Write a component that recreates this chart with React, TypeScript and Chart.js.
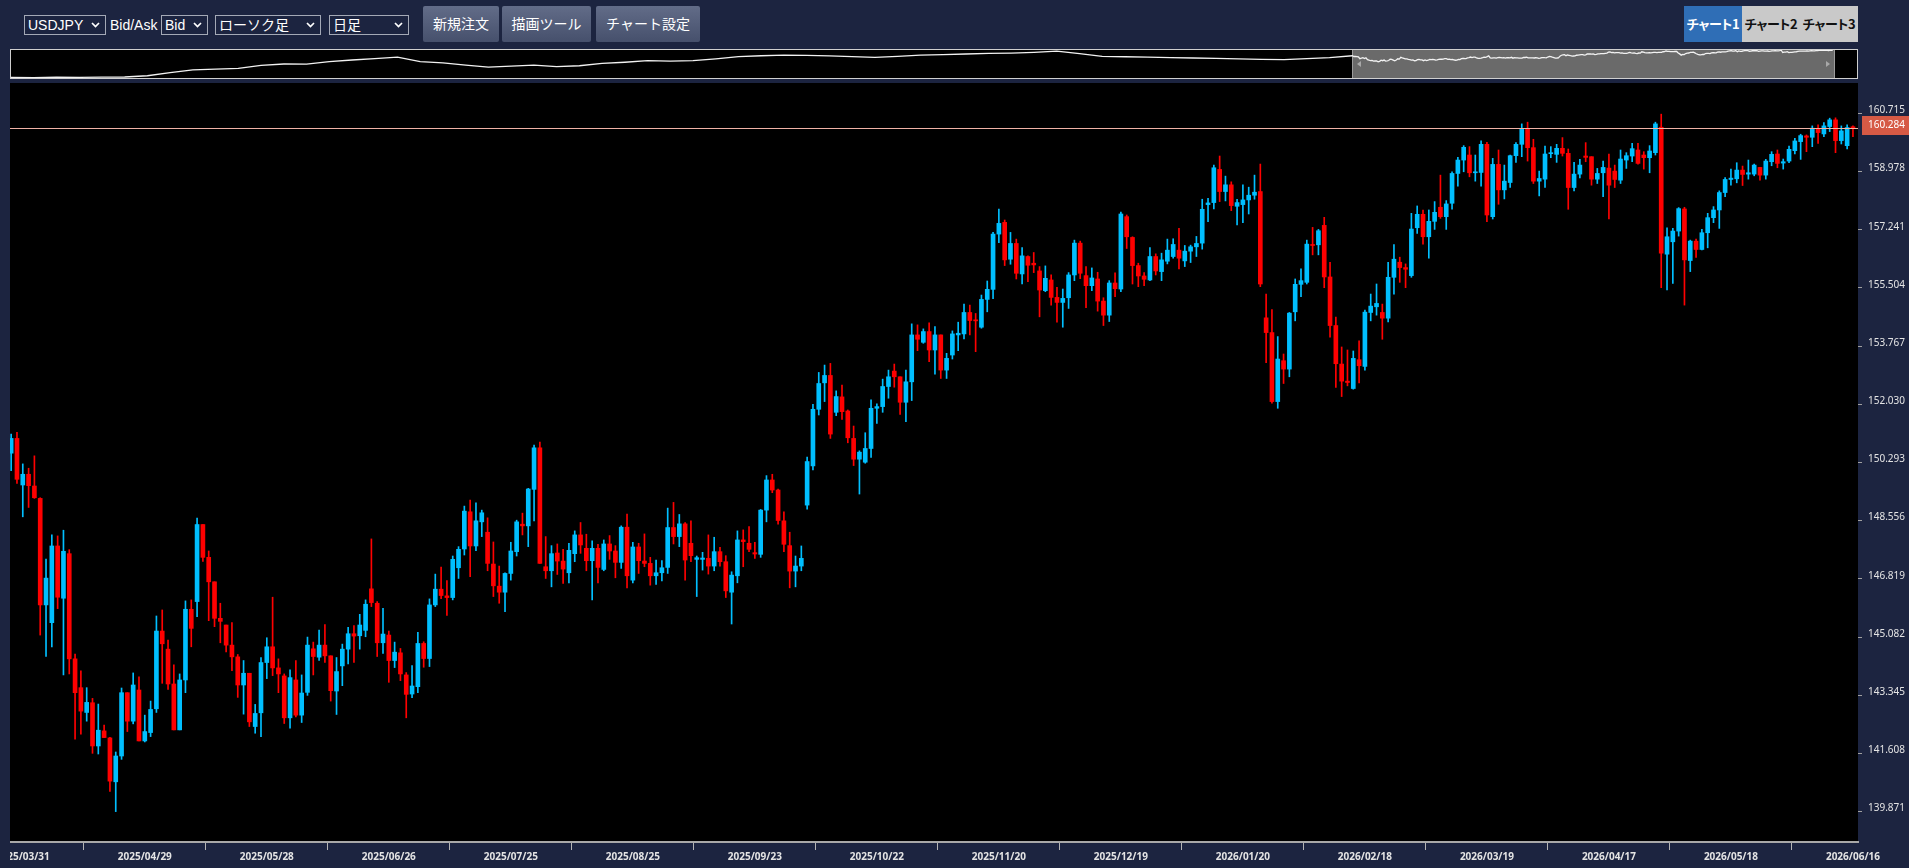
import React, { useEffect, useRef } from "react";
import { Chart, registerables } from "chart.js";

Chart.register(...registerables);

// ---------- data ----------
const firstDate = "2025/03/27";
const lastDate = "2026/06/16";
const holidays = ["2026/01/01"];

const xTickLabels = [
  "2025/03/31", "2025/04/29", "2025/05/28", "2025/06/26", "2025/07/25", "2025/08/25",
  "2025/09/23", "2025/10/22", "2025/11/20", "2025/12/19", "2026/01/20", "2026/02/18",
  "2026/03/19", "2026/04/17", "2026/05/18", "2026/06/16",
];

const yTicks = [
  160.715, 158.978, 157.241, 155.504, 153.767, 152.03, 150.293,
  148.556, 146.819, 145.082, 143.345, 141.608, 139.871,
];

const lastPrice = 160.284;

const open = [
  150.57,151.01,149.62,149.94,149.59,149.22,146.04,145.51,147.80,146.24,
  147.57,144.43,143.57,142.83,143.12,141.83,142.28,142.07,140.76,141.53,
  143.42,142.57,143.50,141.98,142.23,142.94,145.26,144.72,143.68,142.31,
  143.80,145.91,146.14,148.44,147.46,146.73,145.64,145.44,144.84,144.49,
  143.65,144.00,142.41,142.82,144.32,144.79,144.16,143.92,142.67,143.80,
  142.75,143.43,144.73,144.48,144.84,144.52,143.47,144.22,144.72,145.18,
  145.12,145.28,146.52,146.09,144.91,145.14,144.38,144.61,143.95,143.38,
  143.60,144.89,144.44,146.04,146.51,146.31,146.26,147.15,147.71,148.82,
  147.80,148.52,148.21,147.26,146.60,146.42,146.98,147.63,148.45,148.40,
  149.49,150.73,147.18,147.06,147.59,147.35,147.00,147.57,148.13,147.73,
  147.36,147.73,147.10,147.86,147.65,147.31,148.36,146.78,147.77,147.35,
  147.28,146.91,147.00,147.16,148.35,148.08,148.46,147.88,147.40,147.40,
  147.43,147.20,147.63,147.33,146.42,146.91,147.98,147.88,147.60,147.55,
  148.87,149.77,149.47,148.55,147.81,147.05,147.20,149.02,150.19,151.88,
  152.67,152.89,151.79,152.25,151.83,151.01,150.39,150.30,150.71,151.91,
  151.96,152.56,153.02,152.85,152.09,152.70,154.10,153.88,154.20,153.65,
  154.10,153.05,153.50,154.10,154.13,154.77,154.55,154.33,155.16,155.46,
  157.11,157.46,156.36,156.83,155.92,156.44,156.24,156.01,155.42,155.74,
  155.22,155.07,155.21,155.89,156.84,155.87,155.57,155.77,155.11,154.69,
  155.65,155.47,157.63,157.01,156.17,155.86,155.74,156.44,155.99,156.30,
  156.44,156.63,156.31,156.60,156.73,156.84,157.99,158.05,159.04,158.38,
  158.58,157.94,157.99,158.13,158.27,158.38,154.61,154.17,152.11,153.33,
  153.08,154.79,155.61,155.67,156.80,156.79,157.37,155.83,154.38,153.23,
  152.72,152.50,153.36,153.16,154.77,154.94,154.77,154.60,155.82,156.27,
  156.11,155.87,157.30,157.70,157.03,157.49,157.91,157.63,158.03,158.92,
  159.32,159.47,158.94,158.95,159.79,157.63,159.19,158.43,158.65,159.45,
  159.79,160.24,159.69,158.69,158.75,159.51,159.49,159.67,159.52,158.50,
  158.90,159.44,159.42,158.75,158.94,159.08,158.99,158.72,159.32,159.44,
  159.62,159.47,159.39,159.54,160.30,156.51,156.88,157.20,157.86,156.32,
  156.90,156.65,157.15,157.60,157.83,158.35,158.74,158.76,159.02,158.90,
  158.90,159.10,158.87,159.27,159.50,159.23,159.29,159.60,159.87,160.04,
  160.00,160.24,160.10,160.32,160.52,159.90,159.75,160.29,
];

const high = [
  151.14,151.19,150.25,150.12,150.49,149.24,147.41,148.13,148.10,148.27,
  147.69,144.57,144.07,143.57,143.25,143.08,142.45,142.09,141.65,143.56,
  143.42,144.01,143.89,142.75,143.17,145.71,145.89,144.99,144.25,143.98,
  146.16,146.19,148.63,148.44,147.65,146.73,146.09,145.44,145.51,144.56,
  144.38,144.00,143.07,144.47,145.06,146.27,144.43,143.98,144.10,144.38,
  143.95,145.08,144.93,145.29,145.45,144.52,144.47,144.87,145.37,145.42,
  145.76,146.19,148.01,146.14,145.94,145.26,144.93,144.74,144.02,144.23,
  145.22,144.94,146.22,146.96,147.17,146.77,147.50,147.78,148.99,149.17,
  149.09,148.87,148.64,147.92,147.20,147.00,147.91,148.57,148.78,149.52,
  150.81,150.90,148.08,147.81,147.86,147.70,147.88,148.25,148.50,148.15,
  147.95,147.85,147.98,148.11,147.81,148.40,148.75,147.91,147.88,148.16,
  147.46,147.38,147.36,148.93,149.10,148.74,148.50,148.55,147.50,147.61,
  148.13,148.06,147.76,147.51,147.03,148.25,148.28,148.38,147.91,148.89,
  149.90,149.94,149.50,148.82,148.21,147.50,147.80,150.45,152.03,152.98,
  153.20,153.25,152.43,152.60,151.86,151.38,150.64,151.18,152.16,152.04,
  152.78,153.05,153.23,152.85,153.05,154.43,154.40,154.28,154.46,154.35,
  154.10,153.55,154.22,154.48,155.02,154.99,154.74,155.29,155.71,157.16,
  157.86,157.53,157.16,156.96,156.71,156.46,156.56,156.14,156.16,155.89,
  155.52,155.47,155.96,156.93,156.90,156.14,156.10,155.97,155.21,155.72,
  155.95,157.77,157.68,157.03,156.24,155.96,156.71,156.52,156.54,156.96,
  156.97,157.28,156.77,156.78,157.04,158.15,158.18,159.17,159.44,158.84,
  158.67,158.15,158.58,158.51,158.87,159.20,155.32,154.86,154.05,153.53,
  154.77,155.77,156.07,156.93,157.31,157.25,157.61,156.27,154.63,153.74,
  153.65,153.62,153.92,154.84,155.32,155.62,155.02,156.27,156.80,156.42,
  156.22,157.73,157.95,157.83,157.83,158.08,158.87,158.11,158.97,159.40,
  159.75,159.72,159.47,159.89,159.85,159.37,159.62,159.17,159.47,159.84,
  160.40,160.45,159.94,158.99,159.74,159.72,159.79,159.99,159.65,159.25,
  159.34,159.84,159.42,159.07,159.29,159.50,159.17,159.62,159.54,159.82,
  159.82,159.57,159.75,160.45,160.69,157.30,157.28,157.90,157.91,156.93,
  156.96,157.25,157.73,157.93,158.40,158.80,159.05,159.24,159.14,159.32,
  159.20,159.10,159.34,159.57,159.62,159.35,159.74,159.97,160.09,160.07,
  160.34,160.37,160.44,160.57,160.58,160.34,160.37,160.34,
];

const low = [
  150.05,149.67,148.67,148.95,149.22,145.14,144.50,144.79,145.93,143.95,
  143.98,142.03,142.18,142.57,141.61,141.59,142.08,140.47,139.87,141.43,
  142.26,142.49,141.98,141.95,142.11,142.83,143.70,143.52,142.31,142.31,
  143.42,144.79,145.69,147.34,145.57,145.39,144.91,144.64,144.08,143.28,
  142.78,142.41,142.21,142.11,143.84,143.93,143.42,142.50,142.36,142.70,
  142.53,143.34,143.95,144.38,144.32,143.17,142.77,143.63,144.28,144.32,
  144.72,145.09,145.99,144.50,144.59,143.73,144.17,143.78,142.67,143.27,
  143.42,144.18,144.20,145.99,146.23,145.73,146.19,146.83,147.53,146.88,
  147.66,148.08,147.06,146.29,146.09,145.84,146.78,147.50,148.13,147.78,
  148.55,147.28,146.83,146.58,146.95,146.68,146.70,147.33,147.58,147.06,
  146.19,146.70,147.06,147.40,146.85,147.13,146.55,146.70,146.98,147.18,
  146.63,146.65,146.76,146.98,147.86,147.78,146.78,147.33,146.29,147.08,
  146.96,147.06,147.20,146.26,145.47,146.70,147.18,147.63,147.43,147.46,
  148.52,149.39,148.45,147.63,146.55,146.58,147.06,148.90,150.07,151.71,
  152.11,151.01,151.69,151.58,150.88,150.20,149.35,150.27,150.44,151.46,
  151.79,152.21,152.54,151.73,151.51,152.14,153.63,153.85,153.30,152.93,
  152.80,152.80,153.38,153.63,153.98,154.10,153.60,154.30,154.79,155.18,
  156.85,156.17,156.21,155.77,155.62,155.69,155.96,154.64,155.39,154.99,
  154.48,154.33,154.89,155.72,155.78,154.91,155.42,154.81,154.38,154.50,
  155.24,155.39,156.68,155.62,155.54,155.57,155.72,155.89,155.72,156.22,
  156.39,156.07,156.14,156.26,156.44,156.66,157.48,157.86,158.08,158.10,
  157.81,157.38,157.45,157.71,158.15,155.54,153.27,152.06,151.91,152.65,
  152.85,154.52,155.24,155.62,156.49,156.49,155.51,154.03,152.53,152.26,
  152.58,152.48,152.67,153.05,154.52,154.69,153.97,154.49,155.32,155.67,
  155.51,155.82,157.13,156.81,156.39,157.25,157.58,157.25,157.85,158.54,
  158.97,158.82,158.69,158.54,157.48,157.56,158.00,158.16,158.50,159.25,
  159.42,159.29,158.62,158.25,158.50,159.39,159.25,159.44,157.85,158.40,
  158.79,159.27,158.57,158.62,158.23,157.56,158.50,158.62,159.07,159.27,
  159.20,159.05,158.94,159.47,155.51,155.44,155.64,157.05,154.99,155.99,
  156.41,156.64,156.70,157.45,157.28,158.23,158.57,158.64,158.56,158.75,
  158.85,158.72,158.75,159.15,159.09,159.05,159.24,159.50,159.34,159.57,
  159.72,159.82,160.02,160.17,159.54,159.80,159.65,160.02,
];

const close = [
  151.01,149.79,149.94,149.60,149.24,146.04,146.84,147.80,146.27,147.64,
  144.43,143.42,142.87,143.13,141.83,142.30,142.08,140.78,141.53,143.42,
  142.57,143.65,141.98,142.26,142.92,145.26,144.88,143.68,142.31,143.80,
  145.91,145.34,148.44,147.46,146.73,145.64,145.55,144.84,144.49,143.65,
  144.00,142.55,142.80,144.32,144.79,144.16,143.98,142.67,143.87,142.75,
  143.41,144.84,144.50,144.84,144.52,143.48,144.05,144.72,145.18,145.11,
  145.44,146.06,146.11,144.91,145.17,144.38,144.63,143.98,143.37,143.62,
  144.89,144.44,146.04,146.51,146.32,146.26,147.40,147.70,148.84,147.80,
  148.55,148.79,147.28,146.61,146.42,146.98,147.65,148.52,148.40,149.50,
  150.73,147.28,147.06,147.57,147.35,147.11,147.67,148.13,147.83,147.36,
  147.73,147.16,147.86,147.65,147.31,148.36,146.91,147.77,147.36,147.28,
  146.91,147.00,147.15,148.35,148.08,148.46,147.38,147.51,147.45,147.44,
  147.20,147.63,147.33,146.46,146.93,147.98,147.93,147.70,147.56,148.87,
  149.77,149.47,148.56,147.85,147.05,147.20,147.43,150.32,151.88,152.65,
  152.89,151.14,152.26,151.81,151.03,150.39,150.60,150.71,151.91,151.96,
  152.56,152.85,152.85,152.09,152.70,154.10,153.97,154.20,153.65,154.10,
  153.05,153.40,154.13,154.15,154.77,154.53,154.52,155.16,155.46,157.11,
  157.43,156.34,156.83,155.94,156.46,156.18,156.19,155.44,155.79,155.22,
  155.07,155.19,155.89,156.84,155.94,155.57,155.80,155.11,154.69,155.65,
  155.48,157.71,157.03,156.17,155.86,155.76,156.44,156.01,156.34,156.63,
  156.80,156.39,156.60,156.73,156.83,157.85,158.04,159.09,158.38,158.58,
  157.96,158.05,158.13,158.27,158.36,155.62,154.17,152.11,153.38,153.08,
  154.75,155.61,155.72,156.81,156.77,157.21,155.83,154.38,153.24,152.72,
  152.68,153.40,153.18,154.78,154.96,155.04,154.60,155.82,156.36,156.11,
  156.06,157.26,157.70,157.03,157.49,157.76,157.63,158.01,158.92,159.32,
  159.70,158.94,158.96,159.79,157.68,159.19,158.43,158.69,159.45,159.79,
  160.24,159.69,158.69,158.77,159.50,159.54,159.67,159.52,158.50,158.90,
  159.17,159.40,158.75,158.92,159.10,158.57,158.74,159.35,159.45,159.66,
  159.22,159.39,159.59,160.40,156.54,157.03,157.20,157.87,156.34,156.90,
  156.65,157.15,157.60,157.83,158.35,158.74,158.78,159.02,158.89,158.94,
  159.17,158.87,159.29,159.49,159.22,159.27,159.64,159.89,160.05,160.00,
  160.27,160.14,160.34,160.52,159.90,160.19,160.29,160.284,
];

// overview (navigator) history before the visible window, coarse closes
const navHistory = [
  114.1,113.8,114.6,114.3,114.8,114.9,117.0,122.5,127.0,128.3,
  129.5,134.8,137.0,136.8,141.0,143.8,146.2,148.8,141.2,139.0,
  135.0,131.8,133.3,135.2,132.7,134.0,138.2,140.0,142.6,142.0,
  142.6,145.8,149.5,151.0,152.0,151.8,150.7,149.6,148.4,149.8,
  152.0,153.0,154.0,154.9,155.6,156.8,158.8,154.5,150.1,149.3,
  148.6,147.9,147.2,146.4,145.6,144.8,144.6,146.2,147.8,
];
const navHistoryStep = 15; // candles per history sample
const navTotalSpan = 1218; // candles shown across the navigator

// ---------- helpers ----------
function buildDates(): string[] {
  const [y0, m0, d0] = firstDate.split("/").map(Number);
  const [y1, m1, d1] = lastDate.split("/").map(Number);
  const d = new Date(Date.UTC(y0, m0 - 1, d0));
  const end = Date.UTC(y1, m1 - 1, d1);
  const out: string[] = [];
  while (d.getTime() <= end) {
    const wd = d.getUTCDay();
    const s = `${d.getUTCFullYear()}/${String(d.getUTCMonth() + 1).padStart(2, "0")}/${String(d.getUTCDate()).padStart(2, "0")}`;
    if (wd !== 0 && wd !== 6 && !holidays.includes(s)) out.push(s);
    d.setUTCDate(d.getUTCDate() + 1);
  }
  return out;
}

const BG = "#1c2440";
const BULL = "#00bfff";
const BEAR = "#ff0000";
const UI_FONT = '"Liberation Sans", "Noto Sans CJK JP", sans-serif';

function FakeSelect({ left, width, text }: { left: number; width: number; text: string }) {
  return (
    <div
      style={{
        position: "absolute", left, top: 15, width, height: 20, boxSizing: "border-box",
        border: "1px solid #a4a9b6", color: "#fff", fontSize: 14, lineHeight: "18px",
        paddingLeft: 3, fontFamily: UI_FONT, whiteSpace: "nowrap", overflow: "hidden",
      }}
    >
      {text}
      <svg style={{ position: "absolute", right: 5, top: 6 }} width="9" height="6">
        <polyline points="1,1 4.5,4.5 8,1" fill="none" stroke="#fff" strokeWidth="1.7" />
      </svg>
    </div>
  );
}

function Btn({ left, width, text }: { left: number; width: number; text: string }) {
  return (
    <div
      style={{
        position: "absolute", left, top: 6, width, height: 36, boxSizing: "border-box",
        background: "linear-gradient(#626c88, #46506c)", color: "#fff", fontSize: 14,
        lineHeight: "36px", textAlign: "center", fontFamily: UI_FONT, borderRadius: 2,
      }}
    >
      {text}
    </div>
  );
}

function Tab({ left, text, active }: { left: number; text: string; active: boolean }) {
  return (
    <div
      style={{
        position: "absolute", left, top: 6, width: 58, height: 36, boxSizing: "border-box",
        background: active ? "#2f6eb6" : "#c9c9c9", color: active ? "#fff" : "#111",
        fontSize: 13, fontWeight: "bold", lineHeight: "36px", textAlign: "center",
        fontFamily: '"Noto Sans CJK JP", sans-serif', fontFeatureSettings: '"palt"',
        letterSpacing: -0.3, whiteSpace: "nowrap",
      }}
    >
      {text}
    </div>
  );
}

export default function App() {
  const mainRef = useRef<HTMLCanvasElement | null>(null);
  const navRef = useRef<HTMLCanvasElement | null>(null);

  useEffect(() => {
    document.body.style.margin = "0";
    document.body.style.background = BG;

    const dates = buildDates();
    const idx = open.map((_, i) => i);
    const colors = idx.map((i) => (close[i] >= open[i] ? BULL : BEAR));
    const tickIdx = xTickLabels.map((l) => dates.indexOf(l)).filter((v) => v >= 0);

    const plotBg = {
      id: "plotBg",
      beforeDraw(c: any) {
        const { ctx, chartArea: a } = c;
        ctx.save();
        ctx.fillStyle = "#000";
        ctx.fillRect(a.left, a.top, a.right - a.left, a.bottom - a.top);
        ctx.restore();
      },
    };

    const priceLine = {
      id: "priceLine",
      afterDatasetsDraw(c: any) {
        const { ctx, chartArea: a } = c;
        const y = Math.round(c.scales.y.getPixelForValue(lastPrice)) + 0.5;
        ctx.save();
        ctx.strokeStyle = "#f0b2a6";
        ctx.lineWidth = 1;
        ctx.beginPath();
        ctx.moveTo(a.left, y);
        ctx.lineTo(a.right, y);
        ctx.stroke();
        ctx.restore();
      },
      afterDraw(c: any) {
        const { ctx, chartArea: a } = c;
        const y = c.scales.y.getPixelForValue(lastPrice);
        ctx.save();
        ctx.fillStyle = "#d65a45";
        ctx.fillRect(a.right + 4, Math.round(y) - 12, 60, 19);
        ctx.fillStyle = "#ffffff";
        ctx.font = '10px "Noto Sans"';
        ctx.textBaseline = "middle";
        ctx.textAlign = "left";
        ctx.fillText(lastPrice.toFixed(3), a.right + 10, Math.round(y) - 2.5);
        ctx.restore();
      },
    };

    const main = new Chart(mainRef.current!, {
      type: "bar",
      data: {
        datasets: [
          {
            data: idx.map((i) => ({ x: i, y: [low[i], high[i]] })) as any,
            backgroundColor: colors,
            barThickness: 1,
            grouped: false,
            order: 2,
            borderWidth: 0,
          } as any,
          {
            data: idx.map((i) => ({ x: i, y: [open[i], close[i]] })) as any,
            backgroundColor: colors,
            barThickness: 4,
            grouped: false,
            minBarLength: 1,
            order: 1,
            borderWidth: 0,
          } as any,
        ],
      },
      options: {
        animation: false,
        responsive: false,
        devicePixelRatio: 1,
        events: [],
        layout: { padding: 0 },
        plugins: { legend: { display: false }, tooltip: { enabled: false } },
        scales: {
          x: {
            type: "linear",
            position: "bottom",
            min: -0.2,
            max: 317.87,
            offset: false,
            grid: { display: true, drawOnChartArea: false, drawTicks: true, tickLength: 8, color: "#b4b4b4" },
            border: { display: true, color: "#a8a8a8", width: 2 },
            ticks: {
              autoSkip: false,
              maxRotation: 0,
              minRotation: 0,
              padding: 1,
              color: "#e4e4e4",
              font: { family: "Noto Sans", size: 10, weight: "bold" },
              callback: (v: any) => dates[Math.round(Number(v))] ?? "",
            },
            afterBuildTicks: (s: any) => {
              s.ticks = tickIdx.map((v) => ({ value: v }));
            },
            afterFit: (s: any) => {
              s.height = 26;
              s.paddingLeft = 0;
              s.paddingRight = 0;
            },
          } as any,
          y: {
            type: "linear",
            position: "right",
            min: 138.963,
            max: 161.62,
            grid: { display: true, drawOnChartArea: false, drawTicks: true, tickLength: 4, color: "#a0a0a0" },
            border: { display: false },
            ticks: {
              padding: 6,
              labelOffset: -3,
              color: "#e4e4e4",
              font: { family: "Noto Sans", size: 10 },
              callback: (v: any) => Number(v).toFixed(3),
            },
            afterBuildTicks: (s: any) => {
              s.ticks = yTicks.map((v) => ({ value: v }));
            },
            afterFit: (s: any) => {
              s.width = 51;
              s.paddingTop = 0;
              s.paddingBottom = 0;
            },
          } as any,
        },
      },
      plugins: [plotBg, priceLine],
    });

    const navStart = navHistory.length * navHistoryStep;
    const navPoints = [
      ...navHistory.map((v, k) => ({ x: k * navHistoryStep, y: v })),
      ...close.map((v, i) => ({ x: navStart + i, y: v })),
    ];

    const nav = new Chart(navRef.current!, {
      type: "line",
      data: {
        datasets: [
          {
            data: navPoints as any,
            borderColor: "#f2f2f2",
            borderWidth: 1.3,
            pointRadius: 0,
            tension: 0,
          },
        ],
      },
      options: {
        animation: false,
        responsive: false,
        devicePixelRatio: 1,
        events: [],
        layout: { padding: 0 },
        plugins: { legend: { display: false }, tooltip: { enabled: false } },
        scales: {
          x: { type: "linear", display: false, min: 0, max: navTotalSpan },
          y: { type: "linear", display: false, min: 113.2, max: 160.8 },
        },
      },
    });

    return () => {
      main.destroy();
      nav.destroy();
    };
  }, []);

  return (
    <div style={{ position: "relative", width: 1909, height: 868, background: BG, overflow: "hidden" }}>
      {/* toolbar */}
      <FakeSelect left={24} width={82} text="USDJPY" />
      <div style={{ position: "absolute", left: 110, top: 15, height: 20, lineHeight: "20px", color: "#fff", fontSize: 14, fontFamily: UI_FONT }}>
        Bid/Ask
      </div>
      <FakeSelect left={161} width={47} text="Bid" />
      <FakeSelect left={215} width={106} text="ローソク足" />
      <FakeSelect left={329} width={80} text="日足" />
      <Btn left={423} width={76} text="新規注文" />
      <Btn left={502} width={89} text="描画ツール" />
      <Btn left={596} width={104} text="チャート設定" />
      <Tab left={1684} text="チャート1" active={true} />
      <Tab left={1742} text="チャート2" active={false} />
      <Tab left={1800} text="チャート3" active={false} />

      {/* navigator */}
      <div
        style={{
          position: "absolute", left: 10, top: 49, width: 1848, height: 30, boxSizing: "border-box",
          background: "#000", border: "1px solid #cfcfcf",
        }}
      >
        <div
          style={{
            position: "absolute", left: 1341, top: 0, width: 483, height: 28, boxSizing: "border-box",
            background: "#6a6a6a", borderLeft: "1px solid #9c9c9c", borderRight: "1px solid #9c9c9c",
          }}
        />
        <div style={{ position: "absolute", left: 1346, top: 11, width: 0, height: 0, borderTop: "3px solid transparent", borderBottom: "3px solid transparent", borderRight: "4px solid #a8a8a8" }} />
        <div style={{ position: "absolute", left: 1815, top: 11, width: 0, height: 0, borderTop: "3px solid transparent", borderBottom: "3px solid transparent", borderLeft: "4px solid #a8a8a8" }} />
        <canvas ref={navRef} width={1846} height={28} style={{ position: "absolute", left: 0, top: 0, width: 1846, height: 28 }} />
      </div>

      {/* main chart */}
      <canvas
        ref={mainRef}
        width={1899}
        height={785}
        style={{ position: "absolute", left: 10, top: 83, width: 1899, height: 785 }}
      />
    </div>
  );
}
